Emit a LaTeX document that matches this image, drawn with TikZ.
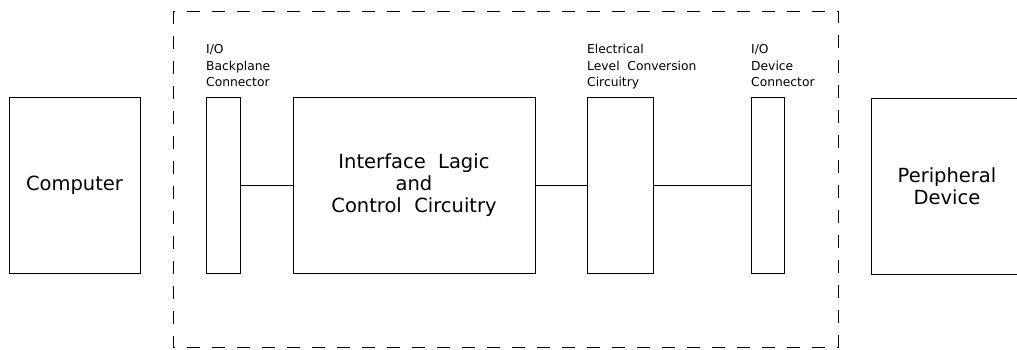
\documentclass[tikz,border=0pt]{standalone}
\usepackage{fontspec}
\setmainfont{DejaVu Sans}
\begin{document}
\begin{tikzpicture}[x=1pt,y=-1pt,
  blk/.style={draw, line width=0.9pt, inner sep=0pt},
  lbl/.style={font=\fontsize{12.3}{16.5}\selectfont, align=left, anchor=base west, inner sep=0pt},
  big/.style={font=\fontsize{19.5}{22}\selectfont, align=center},
  wire/.style={line width=0.9pt},
  bound/.style={line width=0.9pt, dash pattern=on 13pt off 12pt}]
\useasboundingbox (0,0) rectangle (1017,350);
\clip (0,0) rectangle (1017,350);

% interface card boundary
\draw[bound] (173,11) rectangle (838,347);

% blocks
\node[blk, big, minimum width=131pt, minimum height=176pt] (comp) at (74.5,185) {Computer};
\node[blk, minimum width=34pt, minimum height=176pt] (bp) at (223,185) {};
\node[blk, big, minimum width=242pt, minimum height=176pt] (il) at (414,185) {Interface\ \ Lagic\\and\\Control\ \ Circuitry};
\node[blk, minimum width=66pt, minimum height=176pt] (lc) at (620,185) {};
\node[blk, minimum width=33pt, minimum height=176pt] (dc) at (767.5,185) {};
\node[blk, big, minimum width=152pt, minimum height=176pt] (per) at (947,186) {Peripheral\\Device};

% labels above the narrow blocks (anchored on the last line's baseline)
\node[lbl] (bpl) at (206,87) {I/O\\Backplane\\Connector};
\node[lbl] (lcl) at (587,87) {Electrical\\Level\ \ Conversion\\Circuitry};
\node[lbl] (dcl) at (751,87) {I/O\\Device\\Connector};

% connections
\draw[wire] (bp) -- (il);
\draw[wire] (il) -- (lc);
\draw[wire] (lc) -- (dc);
\end{tikzpicture}
\end{document}
